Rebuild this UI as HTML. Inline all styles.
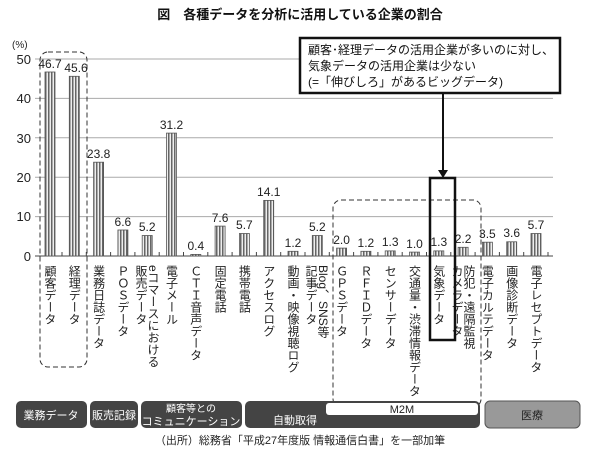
<!DOCTYPE html>
<html><head><meta charset="utf-8"><style>
body{margin:0;background:#fff;}
svg text{font-family:"Liberation Sans","Noto Sans CJK JP",sans-serif;}
.v{writing-mode:vertical-rl;font-size:12px;fill:#222;}
.b{fill:url(#h);stroke:#555;stroke-width:0.8;}
.n{font-size:12px;fill:#222;text-anchor:middle;}
</style></head><body>
<svg width="601" height="453" viewBox="0 0 601 453" xmlns="http://www.w3.org/2000/svg">
<defs>
<pattern id="h" width="3" height="4" patternUnits="userSpaceOnUse"><rect width="3" height="4" fill="#eee"/><rect width="1.5" height="4" fill="#666"/></pattern>
</defs>
<text x="300" y="19" text-anchor="middle" font-size="13" font-weight="bold" fill="#111">図　各種データを分析に活用している企業の割合</text>
<text x="12" y="48" font-size="10" fill="#222">(%)</text>
<g stroke="#aaa" stroke-width="1">
<line x1="35" y1="59" x2="553" y2="59"/><line x1="35" y1="98.4" x2="553" y2="98.4"/><line x1="35" y1="137.8" x2="553" y2="137.8"/><line x1="35" y1="177.2" x2="553" y2="177.2"/><line x1="35" y1="216.6" x2="553" y2="216.6"/>
</g>
<line x1="35" y1="256" x2="553" y2="256" stroke="#444"/>
<g font-size="13" fill="#222" text-anchor="end">
<text x="31" y="64">50</text><text x="31" y="103">40</text><text x="31" y="143">30</text><text x="31" y="182">20</text><text x="31" y="221">10</text><text x="31" y="261">0</text>
</g>
<g>
<rect class="b" x="45" y="72" width="10" height="184"/>
<rect class="b" x="69.3" y="76.3" width="10" height="179.7"/>
<rect class="b" x="93.6" y="162.2" width="10" height="93.8"/>
<rect class="b" x="117.9" y="230" width="10" height="26"/>
<rect class="b" x="142.2" y="235.5" width="10" height="20.5"/>
<rect class="b" x="166.5" y="133.1" width="10" height="122.9"/>
<rect class="b" x="190.8" y="254.4" width="10" height="1.6"/>
<rect class="b" x="215.1" y="226.1" width="10" height="29.9"/>
<rect class="b" x="239.4" y="233.5" width="10" height="22.5"/>
<rect class="b" x="263.7" y="200.4" width="10" height="55.6"/>
<rect class="b" x="288" y="251.3" width="10" height="4.7"/>
<rect class="b" x="312.3" y="235.5" width="10" height="20.5"/>
<rect class="b" x="336.6" y="248.1" width="10" height="7.9"/>
<rect class="b" x="360.9" y="251.3" width="10" height="4.7"/>
<rect class="b" x="385.2" y="250.9" width="10" height="5.1"/>
<rect class="b" x="409.5" y="252.1" width="10" height="3.9"/>
<rect class="b" x="433.8" y="250.9" width="10" height="5.1"/>
<rect class="b" x="458.1" y="247.3" width="10" height="8.7"/>
<rect class="b" x="482.4" y="242.2" width="10" height="13.8"/>
<rect class="b" x="506.7" y="241.8" width="10" height="14.2"/>
<rect class="b" x="531" y="233.5" width="10" height="22.5"/>
</g>
<g>
<text class="n" x="50" y="68">46.7</text>
<text class="n" x="76" y="72">45.6</text>
<text class="n" x="98.6" y="158">23.8</text>
<text class="n" x="122.9" y="226">6.6</text>
<text class="n" x="147.2" y="231">5.2</text>
<text class="n" x="171.5" y="129">31.2</text>
<text class="n" x="195.8" y="250">0.4</text>
<text class="n" x="220.1" y="222">7.6</text>
<text class="n" x="244.4" y="229">5.7</text>
<text class="n" x="268.7" y="196">14.1</text>
<text class="n" x="293" y="247">1.2</text>
<text class="n" x="317.3" y="231">5.2</text>
<text class="n" x="341.6" y="244">2.0</text>
<text class="n" x="365.9" y="247">1.2</text>
<text class="n" x="390.2" y="246">1.3</text>
<text class="n" x="414.5" y="248">1.0</text>
<text class="n" x="438.8" y="246">1.3</text>
<text class="n" x="463.1" y="243">2.2</text>
<text class="n" x="487.4" y="238">3.5</text>
<text class="n" x="511.7" y="237">3.6</text>
<text class="n" x="536" y="229">5.7</text>
</g>
<g stroke="#444">
<line x1="62" y1="252" x2="62" y2="256"/><line x1="86.3" y1="252" x2="86.3" y2="256"/><line x1="110.6" y1="252" x2="110.6" y2="256"/><line x1="134.9" y1="252" x2="134.9" y2="256"/><line x1="159.2" y1="252" x2="159.2" y2="256"/><line x1="183.5" y1="252" x2="183.5" y2="256"/><line x1="207.8" y1="252" x2="207.8" y2="256"/><line x1="232.1" y1="252" x2="232.1" y2="256"/><line x1="256.4" y1="252" x2="256.4" y2="256"/><line x1="280.7" y1="252" x2="280.7" y2="256"/><line x1="305" y1="252" x2="305" y2="256"/><line x1="329.3" y1="252" x2="329.3" y2="256"/><line x1="353.6" y1="252" x2="353.6" y2="256"/><line x1="377.9" y1="252" x2="377.9" y2="256"/><line x1="402.2" y1="252" x2="402.2" y2="256"/><line x1="426.5" y1="252" x2="426.5" y2="256"/><line x1="450.8" y1="252" x2="450.8" y2="256"/><line x1="475.1" y1="252" x2="475.1" y2="256"/><line x1="499.4" y1="252" x2="499.4" y2="256"/><line x1="523.7" y1="252" x2="523.7" y2="256"/><line x1="548" y1="252" x2="548" y2="256"/>
</g>
<g>
<text class="v" x="50" y="265">顧客データ</text>
<text class="v" x="74.3" y="265">経理データ</text>
<text class="v" x="98.6" y="265">業務日誌データ</text>
<text class="v" x="122.9" y="265">ＰＯＳデータ</text>
<text class="v" x="141" y="265">販売データ</text>
<text class="v" x="153" y="265">eコマースにおける</text>
<text class="v" x="171.5" y="265">電子メール</text>
<text class="v" x="195.8" y="265">ＣＴＩ音声データ</text>
<text class="v" x="220.1" y="265">固定電話</text>
<text class="v" x="244.4" y="265">携帯電話</text>
<text class="v" x="268.7" y="265">アクセスログ</text>
<text class="v" x="293" y="265">動画・映像視聴ログ</text>
<text class="v" x="311" y="265">記事データ</text>
<text class="v" x="323" y="265">Blog、SNS等</text>
<text class="v" x="341.6" y="265">ＧＰＳデータ</text>
<text class="v" x="365.9" y="265">ＲＦＩＤデータ</text>
<text class="v" x="390.2" y="265">センサーデータ</text>
<text class="v" x="414.5" y="265">交通量・渋滞情報データ</text>
<text class="v" x="438.8" y="265">気象データ</text>
<text class="v" x="457" y="265">カメラデータ</text>
<text class="v" x="469" y="265">防犯・遠隔監視</text>
<text class="v" x="487.4" y="265">電子カルテデータ</text>
<text class="v" x="511.7" y="265">画像診断データ</text>
<text class="v" x="536" y="265">電子レセプトデータ</text>
</g>
<rect x="300" y="38" width="260" height="55" fill="#fff" stroke="#111" stroke-width="2.5"/>
<text x="308" y="54" font-size="12" fill="#111">顧客･経理データの活用企業が多いのに対し、</text>
<text x="308" y="70" font-size="12" fill="#111">気象データの活用企業は少ない</text>
<text x="308" y="86" font-size="12" fill="#111">(=「伸びしろ」があるビッグデータ)</text>
<line x1="443" y1="93" x2="443" y2="172" stroke="#111" stroke-width="2"/>
<polygon points="438,170 448,170 443,178" fill="#111"/>
<rect x="40" y="52" width="47" height="315" rx="8" fill="none" stroke="#333" stroke-dasharray="5,3"/>
<rect x="333" y="200" width="148" height="207" rx="8" fill="none" stroke="#333" stroke-dasharray="5,3"/>
<rect x="430" y="178" width="25" height="162" fill="none" stroke="#111" stroke-width="2.5"/>
<g>
<rect x="16" y="401" width="71" height="27" rx="5" fill="#444"/><text x="51" y="419" font-size="11" fill="#fff" text-anchor="middle">業務データ</text>
<rect x="90" y="401" width="48" height="27" rx="5" fill="#444"/><text x="114" y="419" font-size="11" fill="#fff" text-anchor="middle">販売記録</text>
<rect x="141" y="401" width="101" height="27" rx="5" fill="#444"/><text x="191" y="412" font-size="10" fill="#fff" text-anchor="middle">顧客等との</text><text x="191" y="425" font-size="11" fill="#fff" text-anchor="middle">コミュニケーション</text>
<rect x="245" y="401" width="235" height="27" rx="5" fill="#444"/><rect x="326" y="403" width="152" height="12" rx="3" fill="#fff"/><text x="402" y="413" font-size="11" fill="#222" text-anchor="middle">M2M</text><text x="295" y="424" font-size="11" fill="#fff" text-anchor="middle">自動取得</text>
<rect x="485" y="401" width="95" height="27" rx="5" fill="#999" stroke="#555"/><text x="532" y="419" font-size="11" fill="#222" text-anchor="middle">医療</text>
</g>
<text x="300" y="444" font-size="11" text-anchor="middle" fill="#222">（出所）総務省「平成27年度版 情報通信白書」を一部加筆</text>
</svg>
</body></html>
